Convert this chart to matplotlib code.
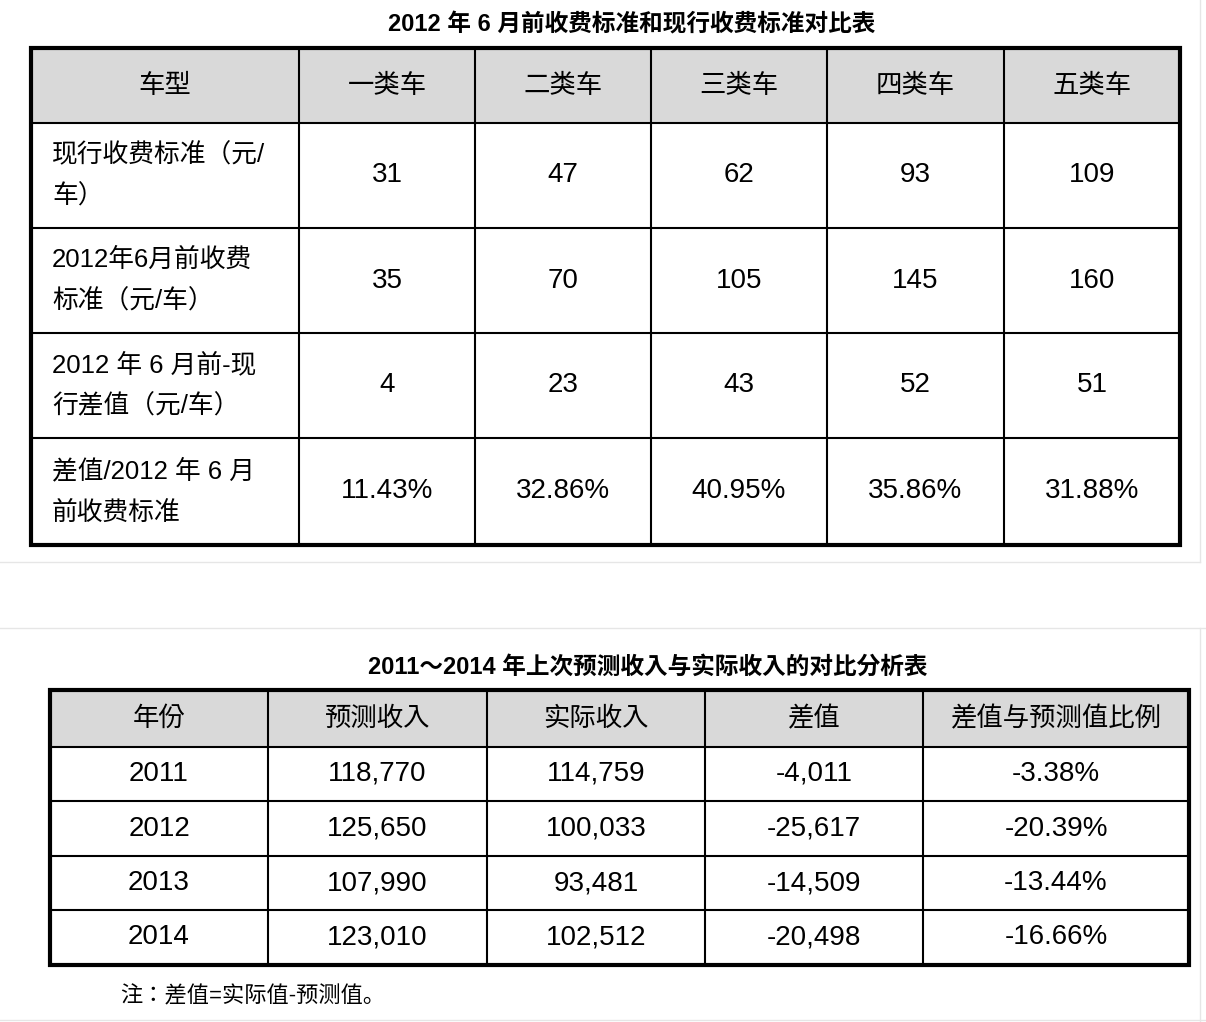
import matplotlib
matplotlib.use("Agg")
import matplotlib.pyplot as plt
from matplotlib.patches import Rectangle

CJKS = ["Noto Sans CJK SC", "Noto Sans CJK JP", "Noto Sans CJK TC", "Noto Sans CJK KR"]
FAM = ["Liberation Sans"] + CJKS + ["DejaVu Sans"]

title1 = "2012 年 6 月前收费标准和现行收费标准对比表"
header1 = ["车型", "一类车", "二类车", "三类车", "四类车", "五类车"]
rowlabels1 = [["现行收费标准（元/", "车）"],
              ["2012年6月前收费", "标准（元/车）"],
              ["2012 年 6 月前-现", "行差值（元/车）"],
              ["差值/2012 年 6 月", "前收费标准"]]
rows1 = [["31", "47", "62", "93", "109"],
         ["35", "70", "105", "145", "160"],
         ["4", "23", "43", "52", "51"],
         ["11.43%", "32.86%", "40.95%", "35.86%", "31.88%"]]

title2 = "2011～2014 年上次预测收入与实际收入的对比分析表"
header2 = ["年份", "预测收入", "实际收入", "差值", "差值与预测值比例"]
rows2 = [["2011", "118,770", "114,759", "-4,011", "-3.38%"],
         ["2012", "125,650", "100,033", "-25,617", "-20.39%"],
         ["2013", "107,990", "93,481", "-14,509", "-13.44%"],
         ["2014", "123,010", "102,512", "-20,498", "-16.66%"]]
note = "注：差值=实际值-预测值。"

fig = plt.figure(figsize=(12.06, 10.22), dpi=100)
ax = fig.add_axes([0, 0, 1, 1])
ax.set_xlim(0, 1206); ax.set_ylim(1022, 0); ax.axis("off")

ax.plot([1200, 1200], [0, 562], color="#e6e6e6", lw=1)
ax.plot([0, 1200], [562, 562], color="#e6e6e6", lw=1)
ax.plot([0, 1206], [628, 628], color="#e6e6e6", lw=1)
ax.plot([1200, 1200], [628, 1022], color="#e6e6e6", lw=1)
ax.plot([0, 1206], [1020, 1020], color="#e6e6e6", lw=1)

def table(xs, ys):
    ax.add_patch(Rectangle((xs[0], ys[0]), xs[-1]-xs[0], ys[1]-ys[0], color="#d9d9d9", lw=0))
    for x in xs[1:-1]:
        ax.plot([x, x], [ys[0], ys[-1]], color="black", lw=1.5)
    for y in ys[1:-1]:
        ax.plot([xs[0], xs[-1]], [y, y], color="black", lw=1.5)
    ax.add_patch(Rectangle((xs[0], ys[0]), xs[-1]-xs[0], ys[-1]-ys[0], fill=False, ec="black", lw=3))

xs1 = [31, 299, 475, 651, 827, 1004, 1180]
ys1 = [48, 123, 228, 333, 438, 545]
table(xs1, ys1)
ax.text(632, 25, title1, ha="center", va="center", fontsize=17, fontweight="bold", family=FAM)
for i, h in enumerate(header1):
    ax.text((xs1[i]+xs1[i+1])/2, (ys1[0]+ys1[1])/2, h, ha="center", va="center", fontsize=19, family=FAM)
for r in range(4):
    yc = (ys1[r+1]+ys1[r+2])/2
    ax.text(52, yc-21, rowlabels1[r][0], ha="left", va="center", fontsize=18.5, family=FAM)
    ax.text(52, yc+21, rowlabels1[r][1], ha="left", va="center", fontsize=18.5, family=FAM)
    for c in range(5):
        ax.text((xs1[c+1]+xs1[c+2])/2, yc, rows1[r][c], ha="center", va="center", fontsize=20, family=FAM)

xs2 = [50, 268, 487, 705, 923, 1189]
ys2 = [690, 747, 801, 856, 910, 965]
table(xs2, ys2)
ax.text(648, 667, title2, ha="center", va="center", fontsize=17, fontweight="bold", family=FAM)
for i, h in enumerate(header2):
    ax.text((xs2[i]+xs2[i+1])/2, (ys2[0]+ys2[1])/2, h, ha="center", va="center", fontsize=19, family=FAM)
for r in range(4):
    yc = (ys2[r+1]+ys2[r+2])/2
    for c in range(5):
        ax.text((xs2[c]+xs2[c+1])/2, yc, rows2[r][c], ha="center", va="center", fontsize=20, family=FAM)
ax.text(120, 997, note, ha="left", va="center", fontsize=16, family=FAM)

fig.savefig("out.png", dpi=100)
